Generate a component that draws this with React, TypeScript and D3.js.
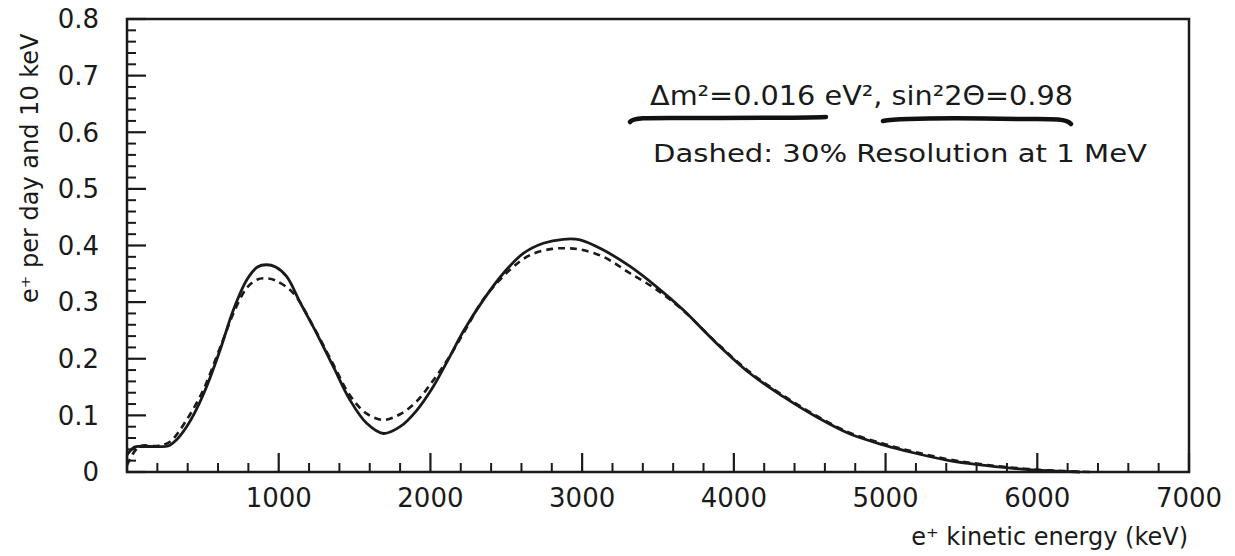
import React from "react";
import * as d3 from "d3";

// Energy grid (keV) and values (e+ per day and 10 keV)
const solidE = [0, 50, 100, 200, 270, 330, 393, 460, 525, 613, 701, 789, 860, 920, 980, 1053, 1140, 1250, 1360, 1470, 1580, 1690, 1800, 1910, 2019, 2110, 2220, 2349, 2481, 2612, 2744, 2876, 2986, 3140, 3316, 3491, 3667, 3887, 4107, 4326, 4546, 4766, 4985, 5183, 5403, 5623, 5842, 6062, 6282];
const solidV = [0.030, 0.044, 0.045, 0.045, 0.046, 0.058, 0.080, 0.112, 0.151, 0.215, 0.286, 0.339, 0.362, 0.366, 0.362, 0.345, 0.300, 0.245, 0.186, 0.127, 0.086, 0.068, 0.080, 0.109, 0.151, 0.195, 0.250, 0.304, 0.351, 0.386, 0.404, 0.411, 0.410, 0.392, 0.363, 0.327, 0.286, 0.227, 0.174, 0.133, 0.097, 0.067, 0.048, 0.034, 0.021, 0.0124, 0.0065, 0.0023, 0.0];

const dashedE = [0, 80, 200, 283, 393, 503, 591, 650, 701, 789, 860, 920, 980, 1096, 1228, 1360, 1470, 1580, 1690, 1800, 1910, 2019, 2129, 2239, 2349, 2524, 2656, 2800, 2900, 2986, 3140, 3316, 3491, 3667, 3887, 4107, 4326, 4546, 4766, 4985, 5183, 5403, 5623, 5842, 6062, 6350];
const dashedV = [0.012, 0.045, 0.046, 0.0535, 0.092, 0.145, 0.204, 0.245, 0.280, 0.325, 0.340, 0.342, 0.338, 0.316, 0.257, 0.190, 0.135, 0.103, 0.092, 0.102, 0.125, 0.162, 0.205, 0.255, 0.305, 0.357, 0.383, 0.394, 0.395, 0.393, 0.380, 0.351, 0.322, 0.285, 0.228, 0.176, 0.135, 0.099, 0.069, 0.050, 0.036, 0.023, 0.014, 0.0075, 0.003, 0.0];

const xMajorTicks = [0, 1000, 2000, 3000, 4000, 5000, 6000, 7000];
const xTickLabels = ["", "1000", "2000", "3000", "4000", "5000", "6000", "7000"];
const yMajorTicks = [0, 0.1, 0.2, 0.3, 0.4, 0.5, 0.6, 0.7, 0.8];
const yTickLabels = ["0", "0.1", "0.2", "0.3", "0.4", "0.5", "0.6", "0.7", "0.8"];

const xTitle = "e\u207A kinetic energy (keV)";
const yTitle = "e\u207A per day and 10 keV";
const note1 = "\u0394m\u00B2=0.016 eV\u00B2, sin\u00B22\u0398=0.98";
const note2 = "Dashed: 30% Resolution at 1 MeV";

const W = 1235;
const H = 556;
const left = 127, right = 1189, top = 19, bottom = 472;

export default function App() {
  const x = d3.scaleLinear().domain([0, 7000]).range([left, right]);
  const y = d3.scaleLinear().domain([0, 0.8]).range([bottom, top]);

  const line = d3
    .line<[number, number]>()
    .x((d) => x(d[0]))
    .y((d) => Math.min(bottom, y(d[1])))
    .curve(d3.curveCatmullRom.alpha(0.5));

  const solid = line(solidE.map((e, i) => [e, solidV[i]] as [number, number])) || "";
  const dashed = line(dashedE.map((e, i) => [e, dashedV[i]] as [number, number])) || "";

  const xMinor = d3.range(0, 7001, 200).filter((v) => v % 1000 !== 0);
  const yMinor = d3.range(0, 41).map((i) => i * 0.02).filter((v, i) => i % 5 !== 0);

  const font = "'DejaVu Sans', sans-serif";
  const ink = "#1a1a1a";

  return (
    <svg
      width={W}
      height={H}
      viewBox={`0 0 ${W} ${H}`}
      style={{ position: "absolute", left: 0, top: 0, background: "#fff" }}
    >
      <rect x={0} y={0} width={W} height={H} fill="#fff" />
      {/* frame */}
      <rect x={left} y={top} width={right - left} height={bottom - top} fill="none" stroke={ink} strokeWidth={2.5} />

      {/* x ticks */}
      {xMajorTicks.map((t) => (
        <line key={"xm" + t} x1={x(t)} x2={x(t)} y1={bottom} y2={bottom - 19} stroke={ink} strokeWidth={2.2} />
      ))}
      {xMinor.map((t) => (
        <line key={"xn" + t} x1={x(t)} x2={x(t)} y1={bottom} y2={bottom - 9} stroke={ink} strokeWidth={2} />
      ))}
      {/* y ticks */}
      {yMajorTicks.map((t) => (
        <line key={"ym" + t} x1={left} x2={left + 19} y1={y(t)} y2={y(t)} stroke={ink} strokeWidth={2.2} />
      ))}
      {yMinor.map((t) => (
        <line key={"yn" + t} x1={left} x2={left + 9} y1={y(t)} y2={y(t)} stroke={ink} strokeWidth={2} />
      ))}

      {/* tick labels */}
      {xMajorTicks.map((t, i) => (
        <text key={"xl" + t} x={x(t)} y={507} textAnchor="middle" fontFamily={font} fontSize={26} fill={ink}>
          {xTickLabels[i]}
        </text>
      ))}
      {yMajorTicks.map((t, i) => (
        <text key={"yl" + t} x={99} y={y(t)} dy="0.36em" textAnchor="end" fontFamily={font} fontSize={26} fill={ink}>
          {yTickLabels[i]}
        </text>
      ))}

      {/* axis titles */}
      <text x={1188} y={545} textAnchor="end" fontFamily={font} fontSize={24} fill={ink}>
        {xTitle}
      </text>
      <text
        transform={`translate(38, 303) rotate(-90)`}
        textAnchor="start"
        fontFamily={font}
        fontSize={24}
        fill={ink}
      >
        {yTitle}
      </text>

      {/* curves */}
      <path d={solid} fill="none" stroke={ink} strokeWidth={2.8} strokeLinejoin="round" />
      <path d={dashed} fill="none" stroke={ink} strokeWidth={2.6} strokeDasharray="7,5" />

      {/* annotation */}
      <text x={650} y={105} fontFamily={font} fontSize={27} fill={ink} textLength={423} lengthAdjust="spacingAndGlyphs">
        {note1}
      </text>
      <path
        d="M630,122 C634,117 650,118 700,118 C760,118 800,118 826,117"
        fill="none"
        stroke="#111"
        strokeWidth={4.5}
        strokeLinecap="round"
      />
      <path
        d="M883,121 C900,118 960,118 1020,119 C1050,119 1066,118 1071,124"
        fill="none"
        stroke="#111"
        strokeWidth={4.5}
        strokeLinecap="round"
      />
      <text x={653} y={162} fontFamily={font} fontSize={25} fill={ink} textLength={494} lengthAdjust="spacingAndGlyphs">
        {note2}
      </text>
    </svg>
  );
}
